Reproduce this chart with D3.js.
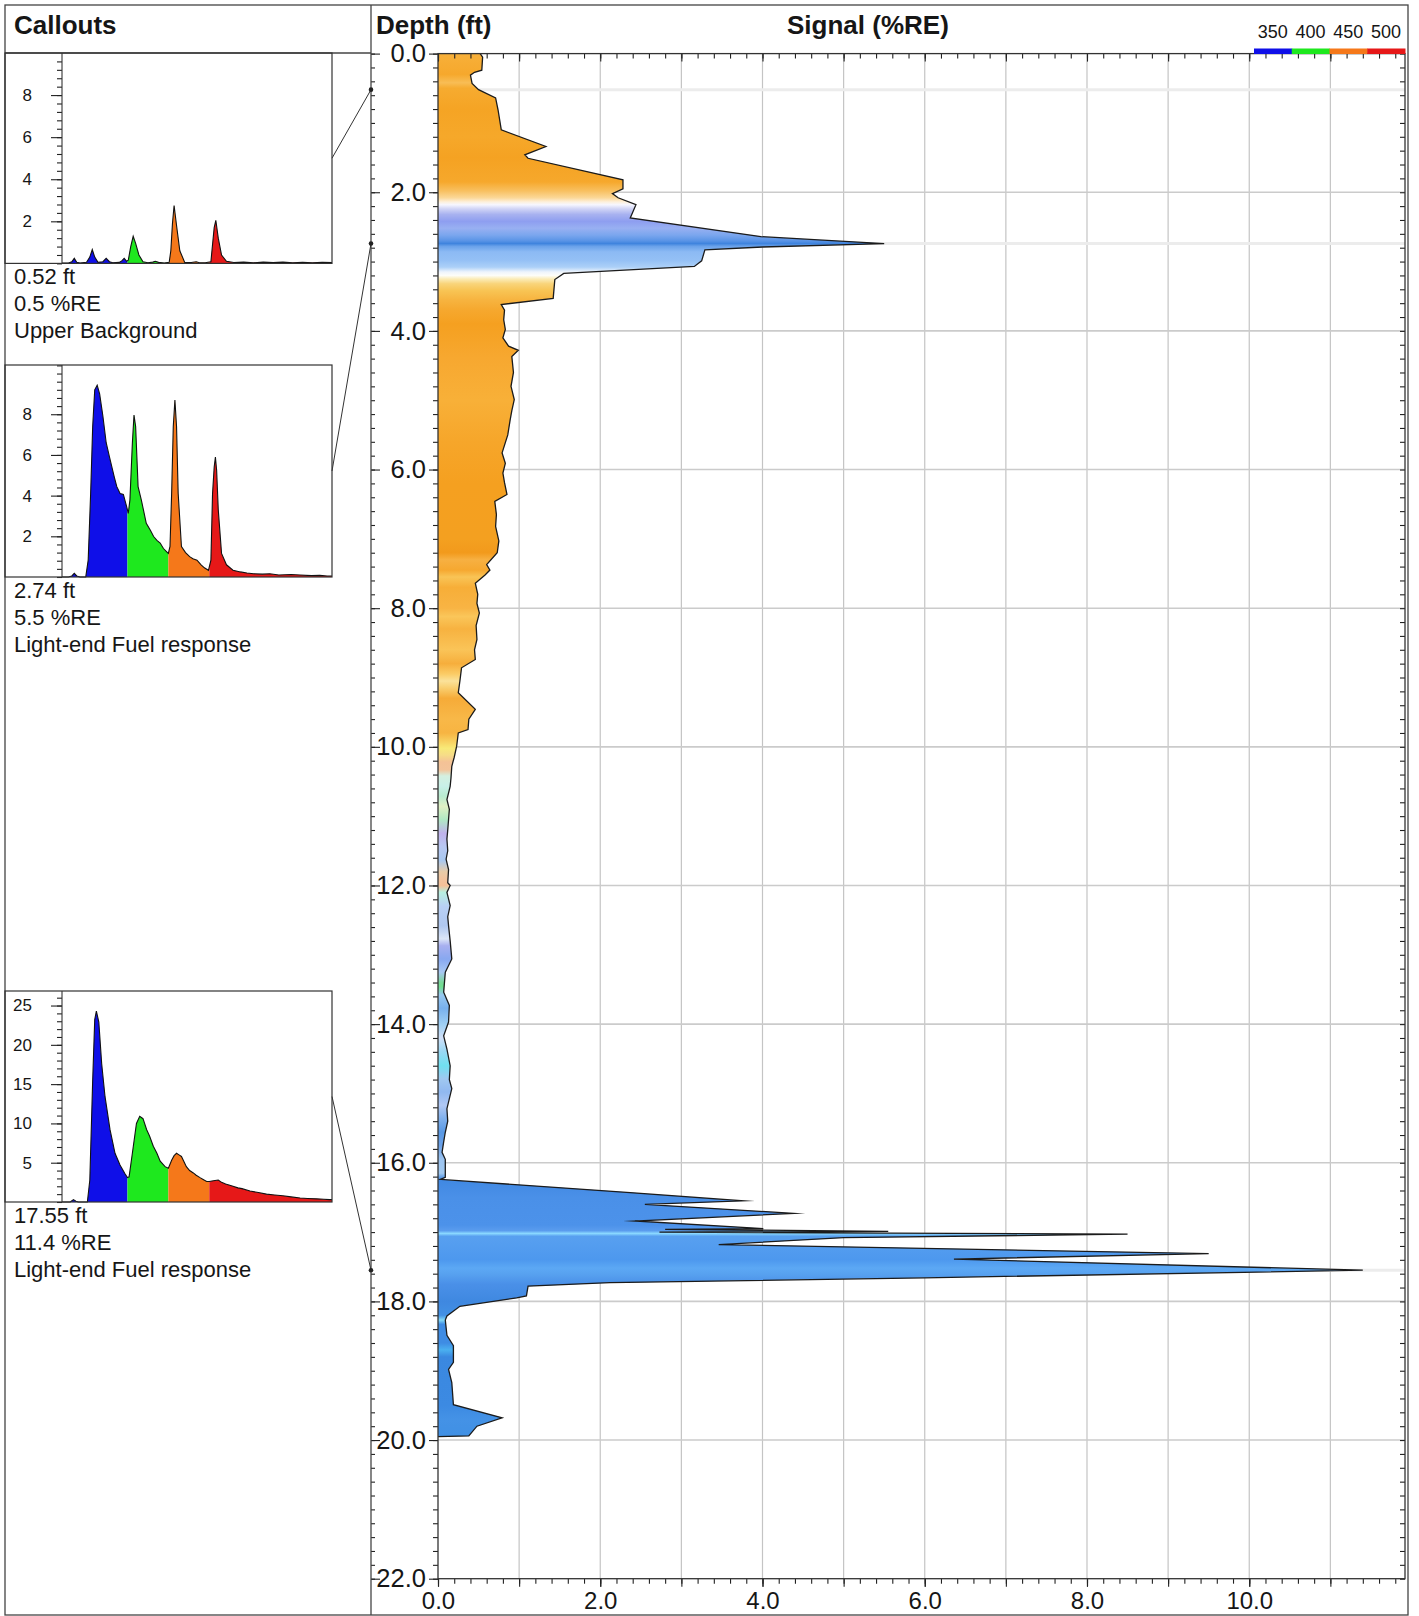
<!DOCTYPE html>
<html>
<head>
<meta charset="utf-8">
<title>Depth log – Signal (%RE)</title>
<script src="https://cdn.jsdelivr.net/npm/d3@7"></script>
<style>
  body { margin: 0; background: #fff; }
  svg { display: block; }
  text { font-family: "Liberation Sans", Arial, sans-serif; fill: #161616; }
</style>
</head>
<body>
<svg id="chart" width="1419" height="1616"></svg>
<script>
// ---------------- data ----------------
// Depth log: signal (%RE) against depth (ft)
const depthFt = [0.00, 0.05, 0.24, 0.27, 0.31, 0.43, 0.52, 0.64, 0.81, 1.10, 1.34, 1.46, 1.51, 1.82, 1.95, 2.02, 2.08,
  2.18, 2.37, 2.64, 2.74, 2.79, 2.83, 2.99, 3.07, 3.17, 3.26, 3.53, 3.62, 3.70, 3.84, 3.98, 4.10, 4.22, 4.28, 4.37,
  4.60, 4.80, 4.99, 5.15, 5.28, 5.50, 5.76, 5.91, 6.05, 6.19, 6.36, 6.46, 6.65, 6.82, 7.03, 7.20, 7.37, 7.45, 7.52,
  7.64, 7.80, 7.93, 8.07, 8.25, 8.45, 8.60, 8.74, 8.86, 9.05, 9.22, 9.46, 9.60, 9.75, 9.80, 9.99, 10.15, 10.28,
  10.45, 10.57, 10.76, 10.90, 11.05, 11.20, 11.33, 11.50, 11.62, 11.77, 11.96, 12.00, 12.10, 12.29, 12.45, 12.58,
  12.80, 13.06, 13.25, 13.54, 13.73, 13.97, 14.17, 14.36, 14.60, 14.80, 14.93, 15.22, 15.40, 15.56, 15.70, 15.85,
  15.95, 16.21, 16.24, 16.43, 16.55, 16.60, 16.73, 16.84, 16.95, 16.96, 16.99, 17.00, 17.03, 17.08, 17.18, 17.31,
  17.39, 17.55, 17.66, 17.73, 17.78, 17.92, 17.95, 18.07, 18.21, 18.27, 18.49, 18.64, 18.88, 18.98, 19.17, 19.49,
  19.68, 19.80, 19.94, 19.95];
const signalRE = [0.52, 0.55, 0.54, 0.45, 0.40, 0.42, 0.50, 0.71, 0.74, 0.78, 1.33, 1.07, 1.11, 2.28, 2.28, 2.15, 2.22,
  2.44, 2.37, 3.98, 5.50, 4.00, 3.29, 3.25, 3.16, 1.55, 1.44, 1.42, 0.78, 0.82, 0.81, 0.83, 0.80, 0.87, 0.99, 0.91,
  0.93, 0.90, 0.94, 0.91, 0.89, 0.86, 0.79, 0.83, 0.80, 0.82, 0.85, 0.70, 0.72, 0.71, 0.75, 0.73, 0.60, 0.64, 0.58,
  0.46, 0.49, 0.48, 0.51, 0.47, 0.48, 0.45, 0.46, 0.29, 0.27, 0.25, 0.46, 0.38, 0.37, 0.25, 0.23, 0.20, 0.17,
  0.16, 0.15, 0.11, 0.14, 0.13, 0.12, 0.11, 0.12, 0.10, 0.13, 0.12, 0.15, 0.11, 0.15, 0.12, 0.13,
  0.15, 0.17, 0.09, 0.07, 0.14, 0.13, 0.07, 0.11, 0.15, 0.14, 0.17, 0.11, 0.12, 0.09, 0.07, 0.05,
  0.09, 0.09, 0.03, 2.37, 3.76, 2.55, 4.38, 2.43, 4.01, 2.80, 5.55, 2.73, 8.50, 5.00, 3.46, 9.50,
  6.36, 11.40, 6.00, 2.12, 1.11, 1.09, 0.97, 0.27, 0.11, 0.09, 0.11, 0.19, 0.19, 0.13, 0.17, 0.19,
  0.79, 0.48, 0.38, 0.00];

// Colour of the fill at each depth (dominant wavelength of the response)
const bandDepth = [0.00, 0.30, 0.42, 0.50, 0.80, 1.20, 1.50, 1.85, 1.98, 2.08, 2.14, 2.18, 2.24, 2.32, 2.42, 2.52,
  2.62, 2.70, 2.74, 2.78, 2.86, 2.98, 3.08, 3.15, 3.20, 3.25, 3.32, 3.42, 3.55, 3.70, 3.90, 4.40, 5.00, 5.60, 6.20,
  7.00, 7.20, 7.30, 7.45, 7.55, 7.70, 8.00, 8.12, 8.30, 8.60, 8.80, 8.95, 9.05, 9.15, 9.30, 9.60, 9.80, 9.92, 10.02,
  10.12, 10.22, 10.33, 10.42, 10.57, 10.71, 10.86, 11.05, 11.25, 11.44, 11.64, 11.80, 11.90, 12.00, 12.10, 12.30,
  12.58, 12.77, 12.87, 13.06, 13.25, 13.40, 13.46, 13.58, 13.77, 14.01, 14.20, 14.40, 14.60, 14.79, 14.98, 15.17,
  15.36, 15.56, 15.75, 15.95, 16.15, 16.24, 16.50, 16.90, 16.98, 17.02, 17.06, 17.40, 17.52, 17.60, 17.75, 18.00,
  18.20, 18.27, 18.33, 18.60, 18.70, 18.80, 19.50, 19.70, 19.95, 22.00];
const bandColour = ["#f7b03a", "#f6a82c", "#f8bd55", "#f6ab30", "#f5a424", "#f6a82a", "#f5a222", "#f6a82c", "#f8c060",
  "#fbd898", "#fdf0dc", "#f6f6ff", "#d0d4f6", "#a8b2f0", "#8e9ef0", "#98b0f2", "#7aa6ee", "#5a94e6", "#3f84de",
  "#6aa2ea", "#8cbaf4", "#94c0f5", "#acd0f8", "#eef4fc", "#fdfdf8", "#fbecb8", "#f9d47a", "#f8c454", "#f7b440",
  "#f6a82e", "#f5a020", "#f7a830", "#f8b038", "#f6a62a", "#f5a020", "#f4a020", "#f29a1c", "#f7b042", "#f6a830",
  "#f9c456", "#f7ae38", "#f8b444", "#fac65a", "#f7b240", "#fac458", "#f6ae3c", "#fbcc66", "#fbe29a", "#f9cf70",
  "#f6ab38", "#f8b848", "#f7b442", "#f8d060", "#f8ea78", "#f6dc88", "#f4c296", "#f3c49a", "#d4f0e0", "#c8f0e8",
  "#b8ecd0", "#e0f0c4", "#b0e8c4", "#c0b2ec", "#b8c8f2", "#a8c8f0", "#e8cca8", "#f2c49e", "#f4c098", "#b8f0e0",
  "#b8d0f4", "#b0c8f0", "#dce6f8", "#a8b0f0", "#88a8f0", "#a8c8f4", "#78d898", "#70e090", "#98c8f0", "#78b0ec",
  "#a0d0f4", "#d0e0f8", "#98d8f4", "#70e0f0", "#a0c8f0", "#90b8f0", "#b0c8f4", "#80b0ec", "#5898e4", "#6aa0e8",
  "#9cc4f0", "#a0c8f0", "#4088e2", "#4a90e8", "#4c92ea", "#5a9cee", "#8ad8ff", "#58a0f0", "#4d98ee", "#5ca8f4",
  "#58a2f0", "#4a90e8", "#3f88e0", "#4290e4", "#80d8f8", "#3e8ce4", "#3e8ce4", "#4ab0f0", "#3a88e0", "#3c8ae2",
  "#4492e6", "#4090e4", "#4090e4"];

// Axis ticks
const depthTicks = [0, 2, 4, 6, 8, 10, 12, 14, 16, 18, 20, 22];
const signalTicks = [0, 2, 4, 6, 8, 10];

// Waveform legend (channel wavelengths, nm)
const legendLabels = ["350", "400", "450", "500"];
const channelColours = ["#0f0fe8", "#1ee81e", "#f5781a", "#e61818"];
const channelEdges = [0, 80, 130, 180, 330];   // ns, channel windows along the waveform

// Callouts
const calloutDepth = [0.52, 2.74, 17.55];
const calloutSignal = [0.5, 5.5, 11.4];
const calloutNote = ["Upper Background", "Light-end Fuel response", "Light-end Fuel response"];
const waveAxisMax = [10, 10.42, 26.85];
const waveTicks = [[2, 4, 6, 8], [2, 4, 6, 8], [5, 10, 15, 20, 25]];
const waveMinorStep = [0.4, 0.4, 1];

const waveTime1 = [0, 8, 12, 15, 18, 22, 30, 34, 37, 40, 44, 50, 54, 58, 62, 70, 73, 76, 79, 81, 84, 87, 90, 94, 99,
  105, 111, 114, 118, 125, 131, 133, 135, 137, 140, 144, 150, 158, 164, 168, 175, 182, 184, 186, 188, 191, 195, 201,
  210, 222, 234, 246, 258, 270, 282, 294, 306, 318, 330];
const waveAmp1 = [0.02, 0.02, 0.08, 0.24, 0.05, 0.02, 0.05, 0.30, 0.66, 0.30, 0.05, 0.08, 0.24, 0.08, 0.03, 0.05,
  0.12, 0.24, 0.10, 0.15, 0.80, 1.29, 0.95, 0.40, 0.08, 0.03, 0.06, 0.10, 0.05, 0.02, 0.05, 0.60, 1.90, 2.75, 1.80,
  0.60, 0.05, 0.04, 0.08, 0.03, 0.03, 0.08, 0.90, 1.70, 2.05, 1.20, 0.40, 0.10, 0.04, 0.06, 0.03, 0.06, 0.04,
  0.06, 0.03, 0.05, 0.03, 0.05, 0.04];

const waveTime2 = [0, 8, 12, 15, 18, 22, 29, 32, 35, 37.5, 40, 43, 46, 50, 54, 58, 61, 64, 67, 71, 75, 79, 81, 83, 86,
  88, 90, 93, 97, 103, 108, 112, 116, 120, 124, 128, 130, 132, 134, 136, 138, 140, 142, 146, 151, 156, 160, 165,
  170, 174, 179, 182, 184, 186, 187.5, 189, 191, 195, 201, 209, 218, 226, 234, 245, 254, 265, 280, 291, 305, 315,
  324, 330];
const waveAmp2 = [0, 0, 0.05, 0.18, 0.05, 0, 0, 0.83, 4.1, 7.4, 9.2, 9.43, 9.0, 7.9, 6.6, 5.9, 5.4, 4.9, 4.44, 4.1,
  4.06, 3.46, 3.13, 3.78, 6.57, 7.96, 7.4, 4.44, 3.78, 2.64, 2.3, 1.99, 1.8, 1.67, 1.4, 1.24, 1.16, 1.5, 4.1, 7.4,
  8.7, 7.4, 4.1, 1.49, 1.2, 1.0, 0.9, 0.83, 0.6, 0.45, 0.33, 0.83, 4.1, 5.4, 5.9, 5.25, 3.3, 1.16, 0.6, 0.33, 0.25,
  0.2, 0.16, 0.14, 0.16, 0.1, 0.12, 0.1, 0.07, 0.08, 0.05, 0.05];

const waveTime3 = [0, 10, 14, 17, 20, 31, 34, 37.5, 40, 42, 45, 48.5, 52.6, 58.7, 64.8, 70.9, 77, 80, 82, 86, 91, 95,
  99, 103.5, 107, 111.6, 116, 120, 126, 130, 134, 137, 140, 143, 146, 152, 156, 160.5, 164, 168.7, 172, 176.8, 180,
  185, 191, 195, 200, 209, 215, 220, 229.8, 240, 250, 260, 270, 280, 291, 300, 311, 320, 327, 330];
const waveAmp3 = [0, 0, 0.3, 0.1, 0, 0, 2.8, 15.5, 23.2, 24.3, 22.9, 17.6, 13.4, 9.2, 6.2, 4.7, 3.6, 3.1, 3.2, 6.2,
  10.0, 10.9, 10.6, 9.2, 8.4, 7.1, 6.2, 5.2, 4.5, 4.3, 5.3, 5.9, 6.2, 6.0, 5.8, 4.5, 4.0, 3.7, 3.4, 3.1, 2.9, 2.6,
  2.6, 2.7, 2.8, 2.5, 2.3, 2.0, 1.8, 1.7, 1.4, 1.2, 1.0, 0.9, 0.8, 0.65, 0.5, 0.45, 0.4, 0.35, 0.3, 0.3];

const waveTimes = [waveTime1, waveTime2, waveTime3];
const waveAmps = [waveAmp1, waveAmp2, waveAmp3];

// ---------------- layout ----------------
const W = 1419, H = 1616;
const frame = { left: 5, top: 5, right: 1408, bottom: 1615 };
const divider = 371;          // line between callout column and log
const headerLine = 53;
const plot = { left: 438, right: 1405, top: 53.6, bottom: 1578.7 };
const panelBoxes = [
  { top: 53, bottom: 263.4 },
  { top: 365, bottom: 577 },
  { top: 991, bottom: 1202 }
];
const panelLeft = frame.left, panelAxisX = 62, panelRight = 332;
const ink = "#222";

const svg = d3.select("#chart");
svg.append("rect").attr("width", W).attr("height", H).attr("fill", "#fff");

const x = d3.scaleLinear().domain([0, 11.92]).range([plot.left, plot.right]);
const y = d3.scaleLinear().domain([0, 22]).range([plot.top, plot.bottom]);

// ---- colour gradient down the log ----
const defs = svg.append("defs");
const grad = defs.append("linearGradient")
  .attr("id", "depthColour")
  .attr("gradientUnits", "userSpaceOnUse")
  .attr("x1", 0).attr("x2", 0)
  .attr("y1", y(0)).attr("y2", y(22));
grad.selectAll("stop").data(bandDepth).join("stop")
  .attr("offset", d => (y(d) - y(0)) / (y(22) - y(0)))
  .attr("stop-color", (d, i) => bandColour[i]);

// ---- grid ----
const grid = svg.append("g");
grid.selectAll("line.v").data(d3.range(1, 12)).join("line").attr("class", "v")
  .attr("x1", d => x(d)).attr("x2", d => x(d))
  .attr("y1", plot.top).attr("y2", plot.bottom)
  .attr("stroke", "#c4c4c4").attr("stroke-width", 1.2);
grid.selectAll("line.h").data(depthTicks.slice(1, -1)).join("line").attr("class", "h")
  .attr("x1", plot.left).attr("x2", plot.right)
  .attr("y1", d => y(d)).attr("y2", d => y(d))
  .attr("stroke", "#cbcbcb").attr("stroke-width", 1.6);
// callout depth markers
grid.selectAll("line.c").data(calloutDepth).join("line").attr("class", "c")
  .attr("x1", plot.left).attr("x2", plot.right)
  .attr("y1", d => y(d)).attr("y2", d => y(d))
  .attr("stroke", "#ececec").attr("stroke-width", 3);

// ---- signal profile ----
const profile = depthFt.map((d, i) => [d, signalRE[i]]);
svg.append("path")
  .datum(profile)
  .attr("d", d3.area().y(d => y(d[0])).x0(x(0)).x1(d => x(d[1])))
  .attr("fill", "url(#depthColour)");
svg.append("path")
  .datum(profile)
  .attr("d", d3.line().y(d => y(d[0])).x(d => x(d[1])))
  .attr("fill", "none").attr("stroke", "#1b1b1b").attr("stroke-width", 1.3)
  .attr("stroke-linejoin", "miter").attr("stroke-miterlimit", 20);

// ---- axes ----
function tidy(g, size) {
  g.select(".domain").remove();
  g.attr("font-family", null).attr("font-size", null);
  g.selectAll("line").attr("stroke", ink).attr("stroke-width", 1.1);
  g.selectAll("text").attr("font-size", size).attr("fill", "#161616");
}
const fmt = d3.format(".1f");
const minorDepth = d3.range(0, 22.001, 0.2);
const minorSignal = d3.range(0, 11.92, 0.2);
const wholeSignal = d3.range(0, 12, 1);

// depth axis (left edge of log)
svg.append("g").attr("transform", `translate(${plot.left},0)`)
  .call(d3.axisLeft(y).tickValues(minorDepth).tickSize(5).tickFormat("")).call(g => tidy(g, 0));
svg.append("g").attr("transform", `translate(${plot.left},0)`)
  .call(d3.axisLeft(y).tickValues(depthTicks).tickSize(9).tickPadding(3).tickFormat(fmt)).call(g => tidy(g, 25.5));
// ticks on the divider
svg.append("g").attr("transform", `translate(${divider},0)`)
  .call(d3.axisRight(y).tickValues(minorDepth).tickSize(4).tickFormat("")).call(g => tidy(g, 0));
svg.append("g").attr("transform", `translate(${divider},0)`)
  .call(d3.axisRight(y).tickValues(depthTicks).tickSize(9).tickFormat("")).call(g => tidy(g, 0));
// right edge
svg.append("g").attr("transform", `translate(${plot.right},0)`)
  .call(d3.axisLeft(y).tickValues(minorDepth).tickSize(5).tickFormat("")).call(g => tidy(g, 0));
// top edge
svg.append("g").attr("transform", `translate(0,${plot.top})`)
  .call(d3.axisBottom(x).tickValues(minorSignal).tickSize(5).tickFormat("")).call(g => tidy(g, 0));
svg.append("g").attr("transform", `translate(0,${plot.top})`)
  .call(d3.axisBottom(x).tickValues(wholeSignal).tickSize(8).tickFormat("")).call(g => tidy(g, 0));
// bottom edge
svg.append("g").attr("transform", `translate(0,${plot.bottom})`)
  .call(d3.axisBottom(x).tickValues(minorSignal).tickSize(5).tickFormat("")).call(g => tidy(g, 0));
svg.append("g").attr("transform", `translate(0,${plot.bottom})`)
  .call(d3.axisBottom(x).tickValues(wholeSignal).tickSize(8).tickFormat("")).call(g => tidy(g, 0));
svg.append("g").attr("transform", `translate(0,${plot.bottom})`)
  .call(d3.axisBottom(x).tickValues(signalTicks).tickSize(8).tickPadding(5).tickFormat(fmt)).call(g => tidy(g, 24));

// plot outline
svg.append("rect")
  .attr("x", plot.left).attr("y", plot.top)
  .attr("width", plot.right - plot.left).attr("height", plot.bottom - plot.top)
  .attr("fill", "none").attr("stroke", "#333").attr("stroke-width", 1.3);

// ---- frame and headers ----
svg.append("rect")
  .attr("x", frame.left).attr("y", frame.top)
  .attr("width", frame.right - frame.left).attr("height", frame.bottom - frame.top)
  .attr("fill", "none").attr("stroke", "#444").attr("stroke-width", 1.3);
svg.append("line").attr("x1", divider).attr("x2", divider).attr("y1", frame.top).attr("y2", frame.bottom)
  .attr("stroke", "#444").attr("stroke-width", 1.3);
svg.append("line").attr("x1", frame.left).attr("x2", divider).attr("y1", headerLine).attr("y2", headerLine)
  .attr("stroke", "#444").attr("stroke-width", 1.3);

svg.append("text").attr("x", 14).attr("y", 34).attr("font-size", 26).attr("font-weight", "bold").text("Callouts");
svg.append("text").attr("x", 376).attr("y", 34).attr("font-size", 26).attr("font-weight", "bold").text("Depth (ft)");
svg.append("text").attr("x", 787).attr("y", 34).attr("font-size", 26).attr("font-weight", "bold").text("Signal (%RE)");

// wavelength legend
const legendX = d3.scaleBand().domain(legendLabels).range([1254, plot.right]);
const legend = svg.append("g");
legend.selectAll("rect").data(legendLabels).join("rect")
  .attr("x", d => legendX(d)).attr("y", 48.5)
  .attr("width", legendX.bandwidth() + 0.5).attr("height", 5.5)
  .attr("fill", (d, i) => channelColours[i]);
legend.selectAll("text").data(legendLabels).join("text")
  .attr("x", d => legendX(d) + legendX.bandwidth() / 2).attr("y", 38)
  .attr("text-anchor", "middle").attr("font-size", 18).attr("fill", "#333").text(d => d);

// ---- callout waveform panels ----
const px = d3.scaleLinear().domain([0, 330]).range([panelAxisX, panelRight]);
panelBoxes.forEach((box, i) => {
  const g = svg.append("g");
  const py = d3.scaleLinear().domain([0, waveAxisMax[i]]).range([box.bottom, box.top]);
  const wave = waveTimes[i].map((t, k) => [t, waveAmps[i][k]]);

  // one clip per channel window
  channelColours.forEach((c, k) => {
    const id = `clip${i}_${k}`;
    defs.append("clipPath").attr("id", id).append("rect")
      .attr("x", px(channelEdges[k])).attr("y", box.top)
      .attr("width", px(channelEdges[k + 1]) - px(channelEdges[k]))
      .attr("height", box.bottom - box.top);
    g.append("path").datum(wave)
      .attr("d", d3.area().x(d => px(d[0])).y0(py(0)).y1(d => py(d[1])))
      .attr("fill", c).attr("clip-path", `url(#${id})`);
  });
  g.append("path").datum(wave)
    .attr("d", d3.line().x(d => px(d[0])).y(d => py(d[1])))
    .attr("fill", "none").attr("stroke", "#111").attr("stroke-width", 1.1);

  // y axis
  const minor = d3.range(0, waveAxisMax[i], waveMinorStep[i]);
  g.append("g").attr("transform", `translate(${panelAxisX},0)`)
    .call(d3.axisLeft(py).tickValues(minor).tickSize(5).tickFormat("")).call(a => tidy(a, 0));
  g.append("g").attr("transform", `translate(${panelAxisX},0)`)
    .call(d3.axisLeft(py).tickValues(waveTicks[i]).tickSize(11).tickPadding(19).tickFormat(d3.format("d")))
    .call(a => tidy(a, 17));
  g.append("line").attr("x1", panelAxisX).attr("x2", panelAxisX).attr("y1", box.top).attr("y2", box.bottom)
    .attr("stroke", "#333").attr("stroke-width", 1.1);

  // panel box
  g.append("rect").attr("x", panelLeft).attr("y", box.top)
    .attr("width", panelRight - panelLeft).attr("height", box.bottom - box.top)
    .attr("fill", "none").attr("stroke", "#333").attr("stroke-width", 1.2);

  // caption
  const lines = [`${calloutDepth[i].toFixed(2)} ft`, `${calloutSignal[i].toFixed(1)} %RE`, calloutNote[i]];
  g.selectAll("text.cap").data(lines).join("text").attr("class", "cap")
    .attr("x", 14).attr("y", (d, k) => box.bottom + 21 + k * 26.8)
    .attr("font-size", 22).text(d => d);

  // leader line to the depth on the log
  const midY = (box.top + box.bottom) / 2;
  g.append("line").attr("x1", panelRight).attr("y1", midY)
    .attr("x2", divider).attr("y2", y(calloutDepth[i]))
    .attr("stroke", "#333").attr("stroke-width", 1);
  g.append("circle").attr("cx", divider).attr("cy", y(calloutDepth[i])).attr("r", 2.3).attr("fill", "#222");
});
</script>
</body>
</html>
